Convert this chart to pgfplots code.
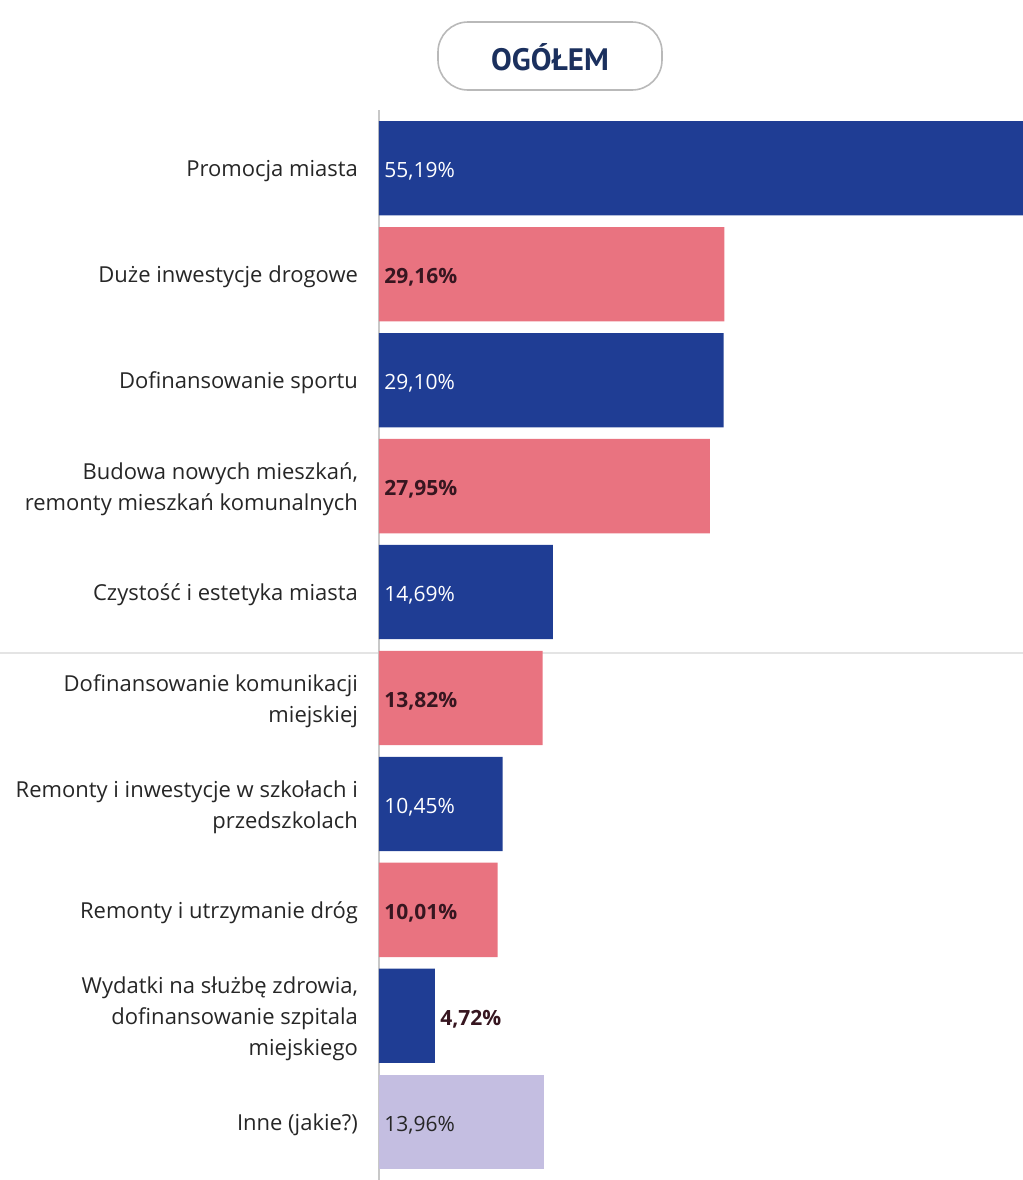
\documentclass[border=0pt]{standalone}
\usepackage{pgfplots}
\pgfplotsset{compat=1.18}
\usepackage{fontspec}
\setmainfont{Open Sans}
\newfontfamily\titlefont{PT Sans}
\definecolor{barblue}{RGB}{31,61,148}
\definecolor{barpink}{RGB}{233,115,128}
\definecolor{barlav}{RGB}{196,190,225}
\definecolor{darkval}{RGB}{55,22,32}
\definecolor{labeltext}{RGB}{38,38,38}
\definecolor{titleblue}{RGB}{27,48,94}
\definecolor{boxgray}{RGB}{185,185,185}
\definecolor{axisgray}{RGB}{200,200,200}
\definecolor{linegray}{RGB}{228,228,228}
\begin{document}
\begin{tikzpicture}
\path[use as bounding box] (0,0) rectangle (511.5pt,-590pt);
\draw[linegray, line width=1pt] (0,-326.5pt) -- (511.5pt,-326.5pt);
\draw[boxgray, line width=0.8pt, rounded corners=15pt] (219pt,-11pt) rectangle (331pt,-45pt);
\node[font=\titlefont\bfseries\fontsize{15.5pt}{18pt}\selectfont, text=titleblue] at (275pt,-28.5pt) {OGÓŁEM};
\begin{axis}[
  at={(189.5pt,-55pt)}, anchor=north west,
  scale only axis, width=322pt, height=535pt,
  xmin=0, xmax=54.39, ymin=-0.55, ymax=9.55, y dir=reverse,
  axis x line=none, axis y line=left,
  y axis line style={-, draw=axisgray, line width=0.7pt},
  ytick={0,...,9}, major tick length=0pt, ytick style={draw=none},
  yticklabels={Promocja miasta, Duże inwestycje drogowe, Dofinansowanie sportu,
    {Budowa nowych mieszkań,\\remonty mieszkań komunalnych}, Czystość i estetyka miasta,
    {Dofinansowanie komunikacji\\miejskiej}, {Remonty i inwestycje w szkołach i\\przedszkolach},
    Remonty i utrzymanie dróg, {Wydatki na służbę zdrowia,\\dofinansowanie szpitala\\miejskiego},
    Inne (jakie?)},
  yticklabel style={align=right, text=labeltext, font=\fontsize{11pt}{15.5pt}\selectfont, xshift=-7pt, yshift=-1.5pt},
]
\addplot[xbar, bar width=0.89, bar shift=0pt, fill=barblue, draw=none] coordinates {(55.19,0) (29.10,2) (14.69,4) (10.45,6) (4.72,8)};
\addplot[xbar, bar width=0.89, bar shift=0pt, fill=barpink, draw=none] coordinates {(29.16,1) (27.95,3) (13.82,5) (10.01,7)};
\addplot[xbar, bar width=0.89, bar shift=0pt, fill=barlav, draw=none] coordinates {(13.96,9)};
\addplot[draw=none, mark=none, point meta=explicit symbolic, nodes near coords={\pgfplotspointmeta\%},
  nodes near coords style={anchor=west, inner sep=0pt, xshift=2.5pt, yshift=-1.5pt, text=white, font=\fontsize{10.5pt}{12pt}\selectfont}]
  table[meta=lab] {
x y lab
0 0 55,19
0 2 29,10
0 4 14,69
0 6 10,45
};
\addplot[draw=none, mark=none, point meta=explicit symbolic, nodes near coords={\pgfplotspointmeta\%},
  nodes near coords style={anchor=west, inner sep=0pt, xshift=2.5pt, yshift=-1.5pt, text=darkval, font=\bfseries\fontsize{10.5pt}{12pt}\selectfont}]
  table[meta=lab] {
x y lab
0 1 29,16
0 3 27,95
0 5 13,82
0 7 10,01
4.72 8 4,72
};
\addplot[draw=none, mark=none, point meta=explicit symbolic, nodes near coords={\pgfplotspointmeta\%},
  nodes near coords style={anchor=west, inner sep=0pt, xshift=2.5pt, yshift=-1.5pt, text=labeltext, font=\fontsize{10.5pt}{12pt}\selectfont}]
  table[meta=lab] {
x y lab
0 9 13,96
};
\end{axis}
\end{tikzpicture}
\end{document}
